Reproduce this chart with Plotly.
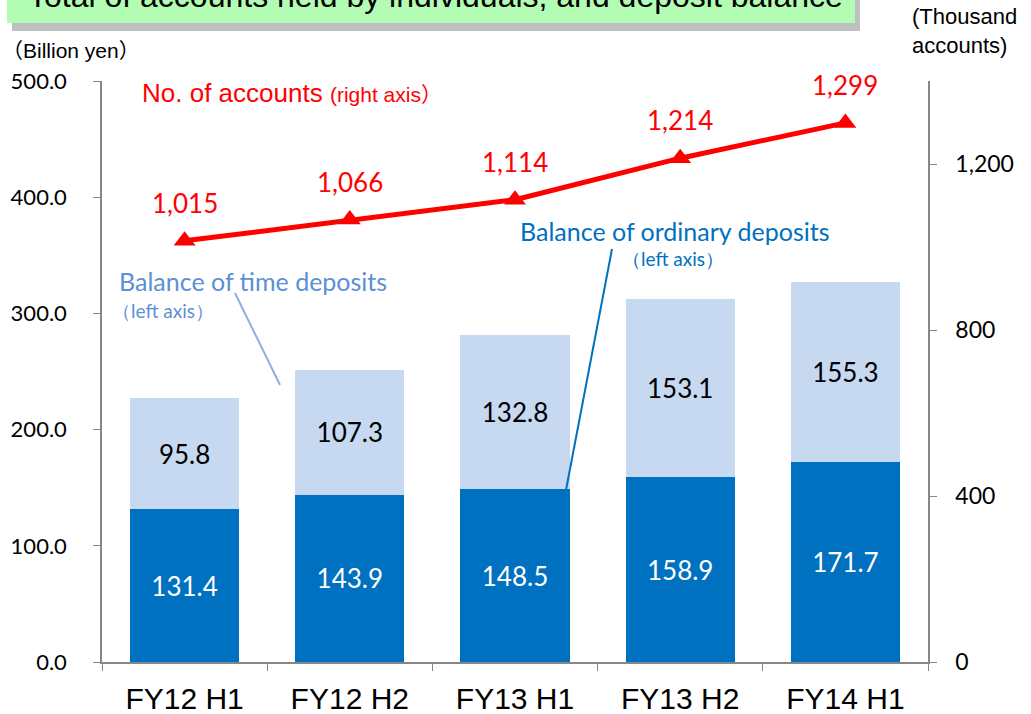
import plotly.graph_objects as go

categories = ["FY12 H1", "FY12 H2", "FY13 H1", "FY13 H2", "FY14 H1"]
ordinary = [131.4, 143.9, 148.5, 158.9, 171.7]
time_dep = [95.8, 107.3, 132.8, 153.1, 155.3]
accounts = [1015, 1066, 1114, 1214, 1299]
left_ticks = [0, 100, 200, 300, 400, 500]
right_ticks = [0, 400, 800, 1200]

W, H = 1031, 714
ML, MR, MT, MB = 102, 103, 81, 52
PW, PH = W - ML - MR, H - MT - MB

def px(x):
    return (x - ML) / PW

def py(y):
    return (H - MB - y) / PH

CAL = "Lato, 'Noto Sans', sans-serif"
ARI = "'Liberation Sans', Arial, 'Noto Sans CJK JP', sans-serif"
NAR = "'Liberation Sans Narrow', 'Liberation Sans', Arial, sans-serif"

fig = go.Figure()
fig.add_trace(go.Bar(
    x=categories, y=ordinary, marker=dict(color="#0070c0", line=dict(width=0)),
    text=[f"{v:.1f}" for v in ordinary], textposition="inside", insidetextanchor="middle",
    textfont=dict(color="white", size=26, family=CAL), constraintext="none",
    name="Balance of ordinary deposits", hoverinfo="x+y",
))
fig.add_trace(go.Bar(
    x=categories, y=time_dep, marker=dict(color="#c6d9f0", line=dict(width=0)),
    text=[f"{v:.1f}" for v in time_dep], textposition="inside", insidetextanchor="middle",
    textfont=dict(color="black", size=26, family=CAL), constraintext="none",
    name="Balance of time deposits", hoverinfo="x+y",
))
fig.add_trace(go.Scatter(
    x=categories, y=accounts, yaxis="y2", mode="lines+markers",
    line=dict(color="#ff0000", width=5),
    marker=dict(symbol="triangle-up", size=19, color="#ff0000"),
    name="No. of accounts", cliponaxis=False,
))

annotations = []
for c, v in zip(categories, accounts):
    annotations.append(dict(
        x=c, y=v, xref="x", yref="y2", text=f"{v:,}", showarrow=False,
        yshift=38, font=dict(color="#ff0000", size=26, family=CAL),
    ))

def txt(x, y, t, size, color, family=ARI, xanchor="left", align="left"):
    annotations.append(dict(
        x=px(x), y=py(y), xref="paper", yref="paper", text=t, showarrow=False,
        xanchor=xanchor, yanchor="middle", align=align,
        font=dict(size=size, color=color, family=family),
    ))

txt(26, -4, "Total of accounts held by individuals, and deposit balance", 32, "black")
txt(0, 50, "（Billion yen）", 21, "black")
txt(910, 31, "(Thousand<br>accounts)", 22, "black")
txt(140, 93, "No. of accounts <span style='font-size:21px'>(right axis）</span>", 26, "#ff0000")
txt(117, 281, "Balance of time deposits", 25, "#5b8fd6", family=CAL)
txt(110, 310, "（left axis）", 19, "#5b8fd6", family=CAL)
txt(518, 231, "Balance of ordinary deposits", 25, "#0070c0", family=CAL)
txt(620, 258, "（left axis）", 19, "#0070c0", family=CAL)

shapes = [
    # title box shadow and box
    dict(type="rect", xref="paper", yref="paper", x0=px(12), x1=px(860), y0=py(31), y1=py(-20),
         fillcolor="#bfbfbf", line=dict(width=0), layer="below"),
    dict(type="rect", xref="paper", yref="paper", x0=px(7), x1=px(855), y0=py(23), y1=py(-20),
         fillcolor="#b3fcb3", line=dict(width=0), layer="below"),
    # connector lines
    dict(type="line", xref="paper", yref="paper", x0=px(235), y0=py(293), x1=px(280), y1=py(385),
         line=dict(color="#8db0e0", width=2)),
    dict(type="line", xref="paper", yref="paper", x0=px(612), y0=py(249), x1=px(566), y1=py(490),
         line=dict(color="#0070c0", width=2)),
]

fig.update_layout(
    width=W, height=H, margin=dict(l=ML, r=MR, t=MT, b=MB, autoexpand=False),
    paper_bgcolor="white", plot_bgcolor="white",
    barmode="stack", bargap=0.34, showlegend=False,
    annotations=annotations, shapes=shapes,
    xaxis=dict(
        type="category", showgrid=False, showline=True, linecolor="#868686", linewidth=1.5,
        ticks="outside", tickson="boundaries", ticklen=7, tickcolor="#868686",
        tickfont=dict(size=30, family=NAR, color="black"), automargin=False,
        ticklabelstandoff=9,
    ),
    yaxis=dict(
        range=[0, 500], tickvals=left_ticks, ticktext=[f"{v:.1f}" for v in left_ticks],
        showgrid=False, zeroline=False, showline=True, linecolor="#868686", linewidth=1.5,
        ticks="outside", ticklen=7, tickcolor="#868686", ticklabelstandoff=22,
        tickfont=dict(size=22, family=CAL, color="black"), automargin=False,
    ),
    yaxis2=dict(
        range=[0, 1400], tickvals=right_ticks, ticktext=[f"{v:,}" for v in right_ticks],
        overlaying="y", side="right",
        showgrid=False, zeroline=False, showline=True, linecolor="#868686", linewidth=1.5,
        ticks="outside", ticklen=7, tickcolor="#868686", ticklabelstandoff=14,
        tickfont=dict(size=23, family=CAL, color="black"), automargin=False,
    ),
)

fig.write_html(
    "out.html",
    config={"displayModeBar": False},
    post_script="document.body.style.margin='0';document.body.style.overflow='hidden';",
)
